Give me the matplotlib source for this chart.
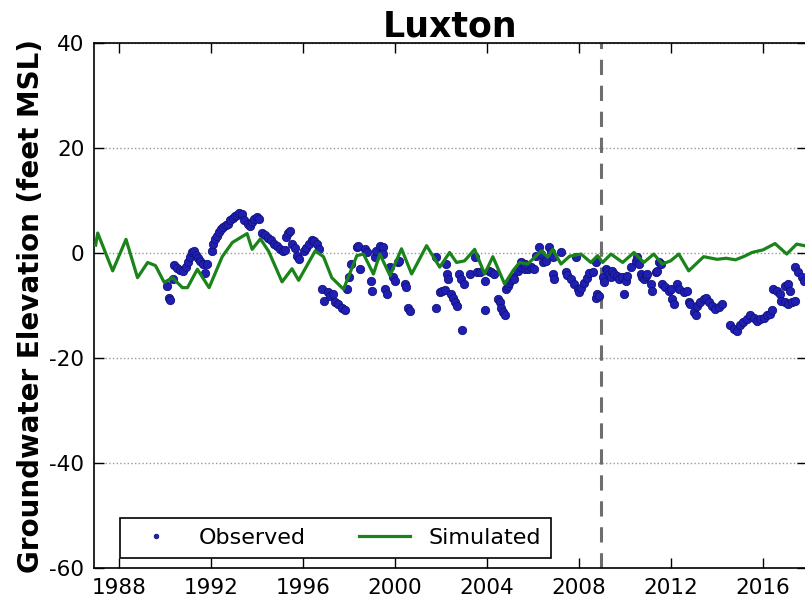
import numpy as np
import matplotlib
matplotlib.use('Agg')
import matplotlib.pyplot as plt

# simulated groundwater elevation (decimal year, feet MSL)
sim_year = [1987.0, 1987.09, 1987.74, 1988.32, 1988.82, 1989.26, 1989.6, 1989.98, 1990.34,
            1990.77, 1990.99, 1991.42, 1991.93, 1992.5, 1992.94, 1993.58, 1993.8, 1994.16,
            1994.52, 1995.1, 1995.53, 1995.82, 1996.54, 1996.9, 1997.26, 1997.77, 1998.35,
            1998.64, 1999.07, 1999.35, 1999.79, 2000.29, 2000.73, 2001.38, 2001.95, 2002.38,
            2002.68, 2003.03, 2003.47, 2003.9, 2004.26, 2004.77, 2005.13, 2005.42, 2005.78,
            2006.36, 2006.65, 2006.86, 2007.22, 2007.6, 2008.09, 2008.52, 2008.81, 2009.03,
            2009.39, 2009.9, 2010.39, 2010.82, 2011.25, 2011.62, 2011.98, 2012.34, 2012.77,
            2013.42, 2014.0, 2014.4, 2014.8, 2015.2, 2015.52, 2016.0, 2016.52, 2017.03,
            2017.46, 2017.9]
sim_val = [1.5, 3.8, -3.4, 2.6, -4.7, -1.8, -2.4, -5.6, -4.7,
           -6.6, -6.6, -3.1, -6.6, -0.7, 2.0, 3.7, 0.7, 2.7,
           0.3, -5.5, -3.0, -5.2, 0.4, -0.7, -4.7, -6.9, -0.5,
           -0.2, -4.0, -0.2, -4.3, 0.8, -4.0, 1.4, -2.7, 0.1,
           -1.8, -1.5, 0.7, -4.0, -0.7, -5.9, -3.4, -1.8, -2.1,
           0.4, -0.8, 0.7, -2.1, -0.6, -0.2, -1.8, -0.5, -1.8,
           -0.2, -1.8, 0.1, -1.8, -0.2, -2.1, -1.5, -0.2, -3.4,
           -0.7, -1.2, -1.0, -1.3, -0.6, 0.1, 0.6, 1.8, -0.2,
           1.7, 1.3]

# observed groundwater elevation
obs_year = [1990.1, 1990.18, 1990.24, 1990.37, 1990.42, 1990.55, 1990.68, 1990.8, 1990.92,
            1991.02, 1991.12, 1991.2, 1991.28, 1991.36, 1991.45, 1991.55, 1991.65, 1991.75,
            1991.85, 1992.05, 1992.1, 1992.18, 1992.27, 1992.36, 1992.46, 1992.55, 1992.65,
            1992.75, 1992.85, 1992.95, 1993.05, 1993.15, 1993.25, 1993.35, 1993.45, 1993.6,
            1993.7, 1993.8, 1993.9, 1994.0, 1994.1, 1994.25, 1994.38, 1994.5, 1994.62,
            1994.75, 1994.88, 1995.0, 1995.12, 1995.22, 1995.28, 1995.38, 1995.45, 1995.55,
            1995.65, 1995.75, 1995.85, 1996.05, 1996.15, 1996.25, 1996.38, 1996.5, 1996.6,
            1996.7, 1996.85, 1996.92, 1997.1, 1997.2, 1997.3, 1997.4, 1997.55, 1997.7,
            1997.85, 1997.92, 1998.0, 1998.08, 1998.35, 1998.42, 1998.5, 1998.7, 1998.77,
            1998.97, 1999.0, 1999.14, 1999.2, 1999.35, 1999.5, 1999.48, 1999.57, 1999.64,
            1999.8, 1999.93, 2000.0, 2000.15, 2000.2, 2000.44, 2000.5, 2000.58, 2000.65,
            2001.8, 2001.8, 2001.95, 2002.07, 2002.17, 2002.24, 2002.25, 2002.3, 2002.45,
            2002.52, 2002.6, 2002.68, 2002.8, 2002.87, 2003.0, 2002.9, 2003.25, 2003.47,
            2003.58, 2003.7, 2003.9, 2003.9, 2004.1, 2004.2, 2004.3, 2004.48, 2004.55,
            2004.62, 2004.7, 2004.77, 2004.84, 2004.9, 2004.98, 2005.05, 2005.12, 2005.2,
            2005.35, 2005.5, 2005.65, 2005.78, 2005.92, 2006.06, 2005.5, 2005.65, 2006.14,
            2006.28, 2006.35, 2006.42, 2006.57, 2006.71, 2006.78, 2006.86, 2006.86, 2006.93,
            2007.22, 2007.44, 2007.5, 2007.65, 2007.79, 2007.94, 2008.0, 2008.08, 2008.22,
            2008.37, 2008.44, 2007.87, 2008.59, 2008.73, 2008.73, 2008.8, 2008.88, 2009.03,
            2009.1, 2009.17, 2009.24, 2009.31, 2009.38, 2009.45, 2009.53, 2009.67, 2009.75,
            2009.89, 2010.03, 2010.1, 2010.25, 2009.96, 2010.47, 2010.54, 2010.6, 2010.68,
            2010.75, 2010.83, 2010.9, 2010.97, 2011.12, 2011.19, 2011.33, 2011.4, 2011.48,
            2011.55, 2011.62, 2011.76, 2011.9, 2011.98, 2012.05, 2012.13, 2012.27, 2012.34,
            2012.55, 2012.7, 2012.77, 2012.84, 2012.98, 2013.07, 2013.14, 2013.28, 2013.43,
            2013.5, 2013.64, 2013.78, 2013.93, 2014.07, 2014.22, 2014.58, 2014.72, 2014.87,
            2015.01, 2015.15, 2015.3, 2015.45, 2015.59, 2015.73, 2015.88, 2016.02, 2016.16,
            2016.31, 2016.38, 2016.45, 2016.6, 2016.74, 2016.8, 2016.96, 2017.1, 2017.24,
            2017.37, 2016.96, 2017.1, 2017.17, 2017.4, 2017.54, 2017.68, 2017.77]
obs_val = [-6.2, -8.5, -9.0, -4.9, -2.2, -2.8, -3.2, -3.4, -2.6,
           -1.8, -0.8, 0.1, 0.4, -0.3, -0.9, -1.6, -2.1, -3.9,
           -2.0, 0.4, 1.7, 2.6, 3.3, 4.0, 4.6, 4.9, 5.3,
           5.6, 6.3, 6.6, 7.1, 7.3, 7.7, 7.4, 6.2, 5.6,
           5.2, 5.9, 6.5, 6.8, 6.4, 3.9, 3.4, 2.9, 2.4,
           1.8, 1.4, 0.8, 0.4, 0.6, 3.0, 3.8, 4.2, 1.8,
           1.0, -0.5, -1.1, 0.4, 1.0, 1.7, 2.5, 2.3, 1.8,
           0.8, -6.9, -9.1, -7.5, -8.1, -7.8, -9.4, -9.8, -10.4,
           -10.9, -6.9, -4.6, -2.1, 1.1, 1.4, -3.1, 0.8, 0.1,
           -5.3, -7.2, -0.8, 0.4, 1.4, 1.1, -0.2, -6.9, -7.8,
           -2.7, -4.6, -5.3, -1.8, -1.5, -5.9, -6.5, -10.4, -11.0,
           -0.8, -10.5, -7.5, -7.2, -7.0, -2.1, -4.0, -5.0, -7.8,
           -8.6, -9.3, -10.0, -4.0, -4.9, -5.9, -14.7, -4.0, -0.8,
           -3.7, -3.7, -5.3, -10.8, -3.4, -3.7, -4.0, -8.8, -9.4,
           -10.4, -11.3, -11.9, -6.9, -6.3, -5.7, -5.2, -4.6, -4.9,
           -3.4, -2.7, -3.0, -3.0, -2.7, -3.0, -1.8, -2.0, -0.5,
           1.1, -0.2, -1.8, -1.5, 1.1, 0.1, -0.8, -4.0, -5.0,
           0.1, -3.7, -4.2, -5.0, -5.9, -6.9, -7.5, -6.6, -5.7,
           -4.8, -3.9, -0.8, -3.7, -1.8, -8.5, -7.8, -8.2, -4.6,
           -5.6, -3.0, -3.4, -4.0, -4.6, -3.4, -4.0, -4.3, -4.9,
           -4.6, -5.3, -4.3, -2.7, -7.9, -1.5, -0.8, -2.1, -4.0,
           -4.6, -5.0, -4.3, -4.0, -5.9, -7.2, -3.7, -3.4, -1.8,
           -2.1, -5.9, -6.5, -7.2, -6.9, -8.8, -9.7, -5.9, -6.8,
           -7.5, -7.2, -9.4, -9.7, -11.3, -11.9, -10.0, -9.4, -8.8,
           -8.5, -9.4, -10.0, -10.7, -10.3, -9.7, -13.8, -14.4, -14.8,
           -13.8, -13.2, -12.6, -11.9, -12.3, -12.9, -12.6, -12.3, -11.9,
           -11.6, -10.9, -6.9, -7.2, -7.8, -9.1, -9.4, -9.7, -9.4,
           -9.1, -6.2, -5.9, -7.2, -2.7, -3.7, -4.6, -5.3]

calib_end = 2008.98
xticks = [1988, 1992, 1996, 2000, 2004, 2008, 2012, 2016]
yticks = [-60, -40, -20, 0, 20, 40]

plt.rcParams['font.family'] = 'DejaVu Sans'
plt.rcParams['axes.unicode_minus'] = False

fig = plt.figure(figsize=(8.05, 6.04), dpi=100)
ax = fig.add_axes([0.1168, 0.0596, 0.8857, 0.8692])

ax.plot(obs_year, obs_val, 'o', color='#1f1fb4', mec='#12127a', mew=0.6,
        markersize=6, label='Observed', zorder=3)
ax.plot(sim_year, sim_val, '-', color='#1a841a', linewidth=2.3, label='Simulated', zorder=4)
ax.axvline(calib_end, color='#6e6e6e', linestyle=(0, (5, 3.5)), linewidth=2.2, zorder=2)

ax.set_xlim(1986.93, 2017.91)
ax.set_ylim(-60, 40)
ax.set_xticks(xticks)
ax.set_yticks(yticks)
ax.yaxis.grid(True, linestyle=':', color='#999999', linewidth=1)
ax.set_axisbelow(True)

ax.tick_params(axis='both', direction='in', length=7, width=1, labelsize=15.5,
               top=True, right=True, pad=7)
for s in ax.spines.values():
    s.set_linewidth(1.2)

ax.set_title('Luxton', fontsize=25, fontweight='bold', pad=5)
ax.set_ylabel('Groundwater Elevation (feet MSL)', fontsize=20, fontweight='bold', labelpad=3)

leg = ax.legend(loc='lower left', bbox_to_anchor=(0.0365, 0.019), borderaxespad=0,
                ncol=2, numpoints=1, markerscale=0.55, fontsize=16, fancybox=False,
                edgecolor='black', framealpha=1, handlelength=2.3, handletextpad=0.8,
                columnspacing=2.4, borderpad=0.45)
leg.get_frame().set_linewidth(1.2)

fig.savefig('out.png', dpi=100, facecolor='white')
